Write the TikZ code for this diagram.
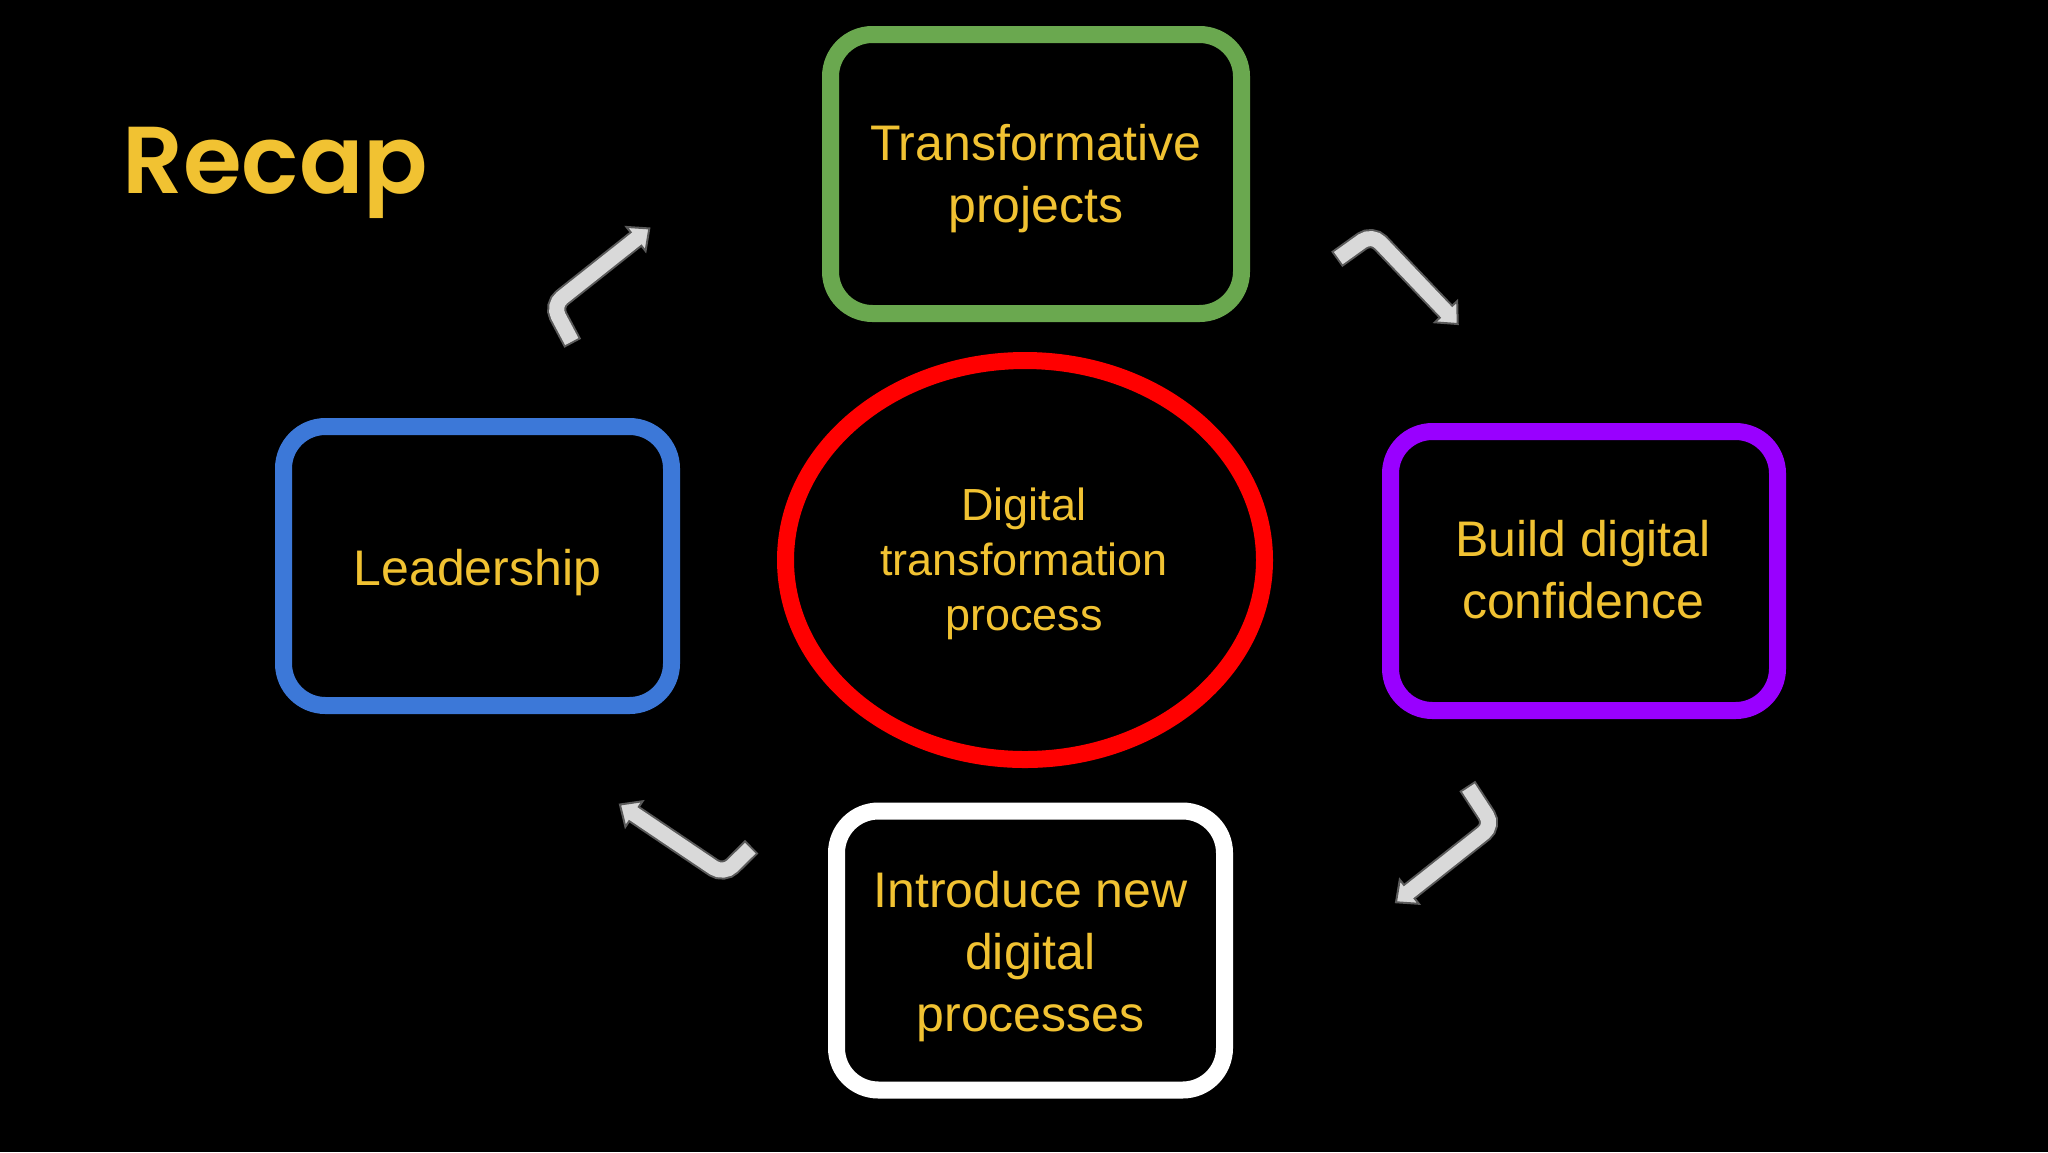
\documentclass[tikz,border=0pt]{standalone}
\usepackage{fontspec}
\setmainfont{Liberation Sans}
\newfontfamily\poppins{Poppins SemiBold}
\usetikzlibrary{calc,shapes.geometric}
\definecolor{txtyellow}{HTML}{F1C232}
\definecolor{gbox}{HTML}{6AA84F}
\definecolor{bbox}{HTML}{3C78D8}
\definecolor{pbox}{HTML}{9900FF}
\definecolor{rell}{HTML}{FF0000}
\definecolor{arrfill}{HTML}{D9D9D9}
\definecolor{arredge}{HTML}{5A5A5A}
\tikzset{
  stepbox/.style={draw=#1, line width=8.5pt, rounded corners=21pt, minimum width=194pt,
    minimum height=139.5pt, inner sep=0pt, outer sep=0pt, fill=black},
  boxtext/.style={text=txtyellow, font=\fontsize{25pt}{31pt}\selectfont, align=center, inner sep=0pt},
  ctext/.style={text=txtyellow, font=\fontsize{22.5pt}{27.5pt}\selectfont, align=center, inner sep=0pt},
  ringshape/.style={ellipse, draw=rell, line width=8.5pt, minimum width=239.5pt,
    minimum height=199.5pt, inner sep=0pt, outer sep=0pt},
  arrouter/.style={line width=9.5pt, draw=arredge, rounded corners=6pt},
  arrinner/.style={line width=7.5pt, draw=arrfill, rounded corners=6pt, shorten <=1pt, shorten >=-1.5pt},
  arrhead/.style={fill=arrfill, draw=arredge, line width=1pt, line join=miter}
}
\newcommand{\bentarrow}[1]{%
  \coordinate (#1h) at ($(#1b)!-8.5pt!(#1e)$);
  \draw[arrouter] (#1t) -- (#1e) -- (#1b);
  \filldraw[arrhead] (#1h) -- ($(#1b)!7.7pt!90:(#1e)$) -- ($(#1b)!7.7pt!-90:(#1e)$) -- cycle;
  \draw[arrinner] (#1t) -- (#1e) -- (#1b);
}
\begin{document}
\begin{tikzpicture}[x=0.5pt, y=-0.5pt]
\useasboundingbox (0,0) rectangle (2048,1152);
\fill[black] (0,0) rectangle (2048,1152);

% title
\node[anchor=base west, inner sep=0pt, text=txtyellow,
  font=\poppins\fontsize{47.5pt}{57pt}\selectfont] (recap) at (122,193) {Recap};

% boxes
\node[stepbox=gbox, minimum width=205.5pt] (tp) at (1036,174) {};
\node[stepbox=bbox] (lead) at (477.5,566) {};
\node[stepbox=pbox, minimum width=193.5pt] (bdc) at (1584,571) {};
\node[stepbox=white] (indp) at (1030.5,950.5) {};
\node[ringshape] (dtp) at (1025,560) {};

% texts
\node[boxtext] (tp-t) at (1036,178.35) {Transformative\\projects};
\node[boxtext] (lead-t) at (477.5,572.35) {Leadership};
\node[boxtext] (bdc-t) at (1583,570.1) {Build digital\\confidence};
\node[boxtext] (indp-t) at (1030.5,956.35) {Introduce new\\digital\\processes};
\node[ctext] (dtp-t) at (1024,563.6) {Digital\\transformation\\process};

% arrow coordinates
\coordinate (at) at (572.7,343.3);
\coordinate (ae) at (552.5,305.3);
\coordinate (ab) at (636,239);
\coordinate (bt) at (1336.7,259.3);
\coordinate (be) at (1372,234);
\coordinate (bb) at (1446,311.7);
\coordinate (ct) at (751.7,846.7);
\coordinate (ce) at (723.7,874.5);
\coordinate (cb) at (634,814);
\coordinate (dt) at (1467.3,786);
\coordinate (de) at (1493.1,825.4);
\coordinate (db) at (1409.3,891.7);

\bentarrow{a}
\bentarrow{b}
\bentarrow{c}
\bentarrow{d}
\end{tikzpicture}
\end{document}
